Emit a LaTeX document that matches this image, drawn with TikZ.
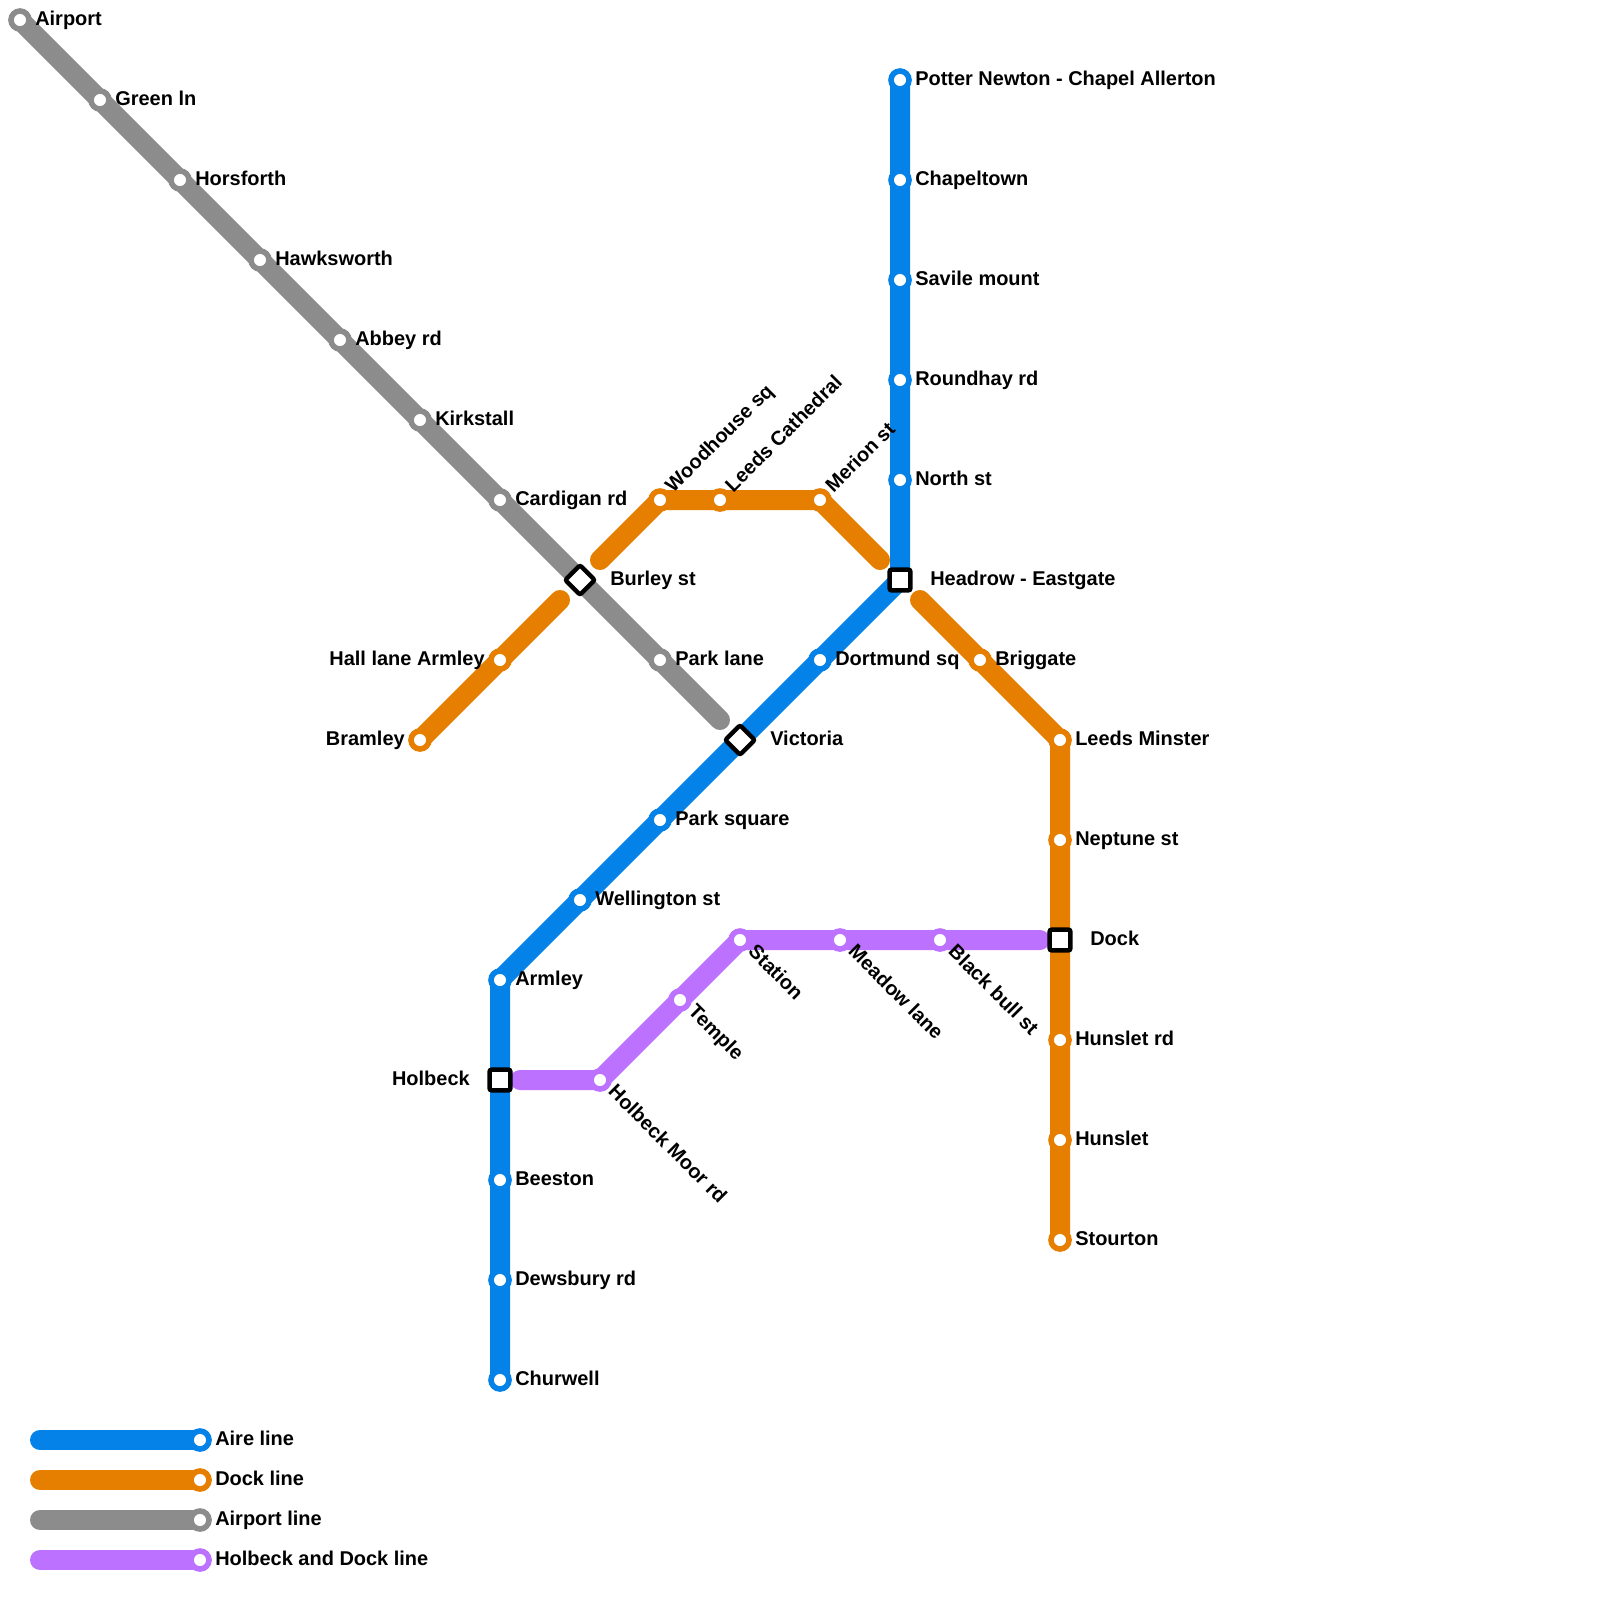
\documentclass[tikz,border=0pt]{standalone}
\usepackage{fontspec}
\setmainfont{Liberation Sans}
\usepackage{xcolor}
\usetikzlibrary{backgrounds}
\definecolor{airecol}{HTML}{0582E8}
\definecolor{dockcol}{HTML}{E67E00}
\definecolor{portcol}{HTML}{8C8C8C}
\definecolor{holbcol}{HTML}{BC71FF}
\tikzset{
  linestroke/.style={line width=0.5cm, line cap=round, line join=round},
  stopdot/.style={circle, draw=#1, fill=white, line width=0.14cm, minimum size=0.45cm, inner sep=0pt},
  hubbox/.style={rectangle, draw=black, fill=white, line width=0.11cm, minimum size=0.52cm, inner sep=0pt, rounded corners=0.05cm},
  stoplabel/.style={font=\fontsize{14.2pt}{17pt}\selectfont\bfseries, inner sep=0pt},
  labelright/.style={stoplabel, anchor=base west, xshift=0.375cm, yshift=-0.135cm},
  labelleft/.style={stoplabel, anchor=base east, xshift=-0.375cm, yshift=-0.135cm},
  labelfarright/.style={stoplabel, anchor=base west, xshift=0.75cm, yshift=-0.135cm},
  labelfarleft/.style={stoplabel, anchor=base east, xshift=-0.75cm, yshift=-0.135cm},
  labelup/.style={stoplabel, anchor=base west, rotate=45, xshift=0.35cm, yshift=-0.12cm},
  labeldown/.style={stoplabel, anchor=base west, rotate=-45, xshift=0.35cm, yshift=-0.1cm},
}
\newcommand{\stn}[6]{% #1 color, #2 name, #3 x, #4 y, #5 label style, #6 text
  \node[stopdot=#1] (#2) at (#3,#4) {};
  \node[#5] (#2text) at (#2.center) {#6};
}
\newcommand{\hub}[6]{% #1 name, #2 x, #3 y, #4 rotation, #5 label style, #6 text
  \node[hubbox, rotate=#4] (#1) at (#2,#3) {};
  \node[#5] (#1text) at (#1.center) {#6};
}

\begin{document}
\begin{tikzpicture}[x=0.5cm, y=-0.5cm]
  \useasboundingbox (0,0) rectangle (80,80);
  % interchanges
  \hub{burley}{29}{29}{45}{labelfarright}{Burley st}
  \hub{victoria}{37}{37}{45}{labelfarright}{Victoria}
  \hub{headrow}{45}{29}{0}{labelfarright}{Headrow - Eastgate}
  \hub{holbeck}{25}{54}{0}{labelfarleft}{Holbeck}
  \hub{dock}{53}{47}{0}{labelfarright}{Dock}
  % airport line
  \stn{portcol}{airport}{1}{1}{labelright}{Airport}
  \stn{portcol}{greenln}{5}{5}{labelright}{Green ln}
  \stn{portcol}{horsforth}{9}{9}{labelright}{Horsforth}
  \stn{portcol}{hawksworth}{13}{13}{labelright}{Hawksworth}
  \stn{portcol}{abbey}{17}{17}{labelright}{Abbey rd}
  \stn{portcol}{kirkstall}{21}{21}{labelright}{Kirkstall}
  \stn{portcol}{cardigan}{25}{25}{labelright}{Cardigan rd}
  \stn{portcol}{parklane}{33}{33}{labelright}{Park lane}
  \coordinate (portend) at (36,36);
  % aire line
  \stn{airecol}{potter}{45}{4}{labelright}{Potter Newton - Chapel Allerton}
  \stn{airecol}{chapeltown}{45}{9}{labelright}{Chapeltown}
  \stn{airecol}{savile}{45}{14}{labelright}{Savile mount}
  \stn{airecol}{roundhay}{45}{19}{labelright}{Roundhay rd}
  \stn{airecol}{northst}{45}{24}{labelright}{North st}
  \stn{airecol}{dortmund}{41}{33}{labelright}{Dortmund sq}
  \stn{airecol}{parksq}{33}{41}{labelright}{Park square}
  \stn{airecol}{wellington}{29}{45}{labelright}{Wellington st}
  \stn{airecol}{armley}{25}{49}{labelright}{Armley}
  \stn{airecol}{beeston}{25}{59}{labelright}{Beeston}
  \stn{airecol}{dewsbury}{25}{64}{labelright}{Dewsbury rd}
  \stn{airecol}{churwell}{25}{69}{labelright}{Churwell}
  % dock line
  \stn{dockcol}{bramley}{21}{37}{labelleft}{Bramley}
  \stn{dockcol}{halllane}{25}{33}{labelleft}{Hall lane Armley}
  \coordinate (dockgapa) at (28,30);
  \coordinate (dockgapb) at (30,28);
  \stn{dockcol}{woodhouse}{33}{25}{labelup}{Woodhouse sq}
  \stn{dockcol}{cathedral}{36}{25}{labelup}{Leeds Cathedral}
  \stn{dockcol}{merion}{41}{25}{labelup}{Merion st}
  \coordinate (dockgapc) at (44,28);
  \coordinate (dockgapd) at (46,30);
  \stn{dockcol}{briggate}{49}{33}{labelright}{Briggate}
  \stn{dockcol}{minster}{53}{37}{labelright}{Leeds Minster}
  \stn{dockcol}{neptune}{53}{42}{labelright}{Neptune st}
  \stn{dockcol}{hunsletrd}{53}{52}{labelright}{Hunslet rd}
  \stn{dockcol}{hunslet}{53}{57}{labelright}{Hunslet}
  \stn{dockcol}{stourton}{53}{62}{labelright}{Stourton}
  % holbeck and dock line
  \coordinate (holbstart) at (26,54);
  \stn{holbcol}{holbmoor}{30}{54}{labeldown}{Holbeck Moor rd}
  \stn{holbcol}{temple}{34}{50}{labeldown}{Temple}
  \stn{holbcol}{station}{37}{47}{labeldown}{Station}
  \stn{holbcol}{meadow}{42}{47}{labeldown}{Meadow lane}
  \stn{holbcol}{blackbull}{47}{47}{labeldown}{Black bull st}
  \coordinate (holbend) at (52,47);
  % key
  \coordinate (keyaire) at (2,72);
  \coordinate (keydock) at (2,74);
  \coordinate (keyport) at (2,76);
  \coordinate (keyholb) at (2,78);
  \stn{airecol}{keyairestop}{10}{72}{labelright}{Aire line}
  \stn{dockcol}{keydockstop}{10}{74}{labelright}{Dock line}
  \stn{portcol}{keyportstop}{10}{76}{labelright}{Airport line}
  \stn{holbcol}{keyholbstop}{10}{78}{labelright}{Holbeck and Dock line}
  \begin{pgfonlayer}{background}
    \draw[linestroke, portcol] (airport.center) -- (greenln.center) -- (horsforth.center) -- (hawksworth.center) -- (abbey.center) -- (kirkstall.center) -- (cardigan.center) -- (burley.center) -- (parklane.center) -- (portend);
    \draw[linestroke, airecol] (potter.center) -- (chapeltown.center) -- (savile.center) -- (roundhay.center) -- (northst.center) -- (headrow.center) -- (dortmund.center) -- (victoria.center) -- (parksq.center) -- (wellington.center) -- (armley.center) -- (holbeck.center) -- (beeston.center) -- (dewsbury.center) -- (churwell.center);
    \draw[linestroke, dockcol] (bramley.center) -- (halllane.center) -- (dockgapa);
    \draw[linestroke, dockcol] (dockgapb) -- (woodhouse.center) -- (cathedral.center) -- (merion.center) -- (dockgapc);
    \draw[linestroke, dockcol] (dockgapd) -- (briggate.center) -- (minster.center) -- (neptune.center) -- (dock.center) -- (hunsletrd.center) -- (hunslet.center) -- (stourton.center);
    \draw[linestroke, holbcol] (holbstart) -- (holbmoor.center) -- (temple.center) -- (station.center) -- (meadow.center) -- (blackbull.center) -- (holbend);
    \draw[linestroke, airecol] (keyaire) -- (keyairestop.center);
    \draw[linestroke, dockcol] (keydock) -- (keydockstop.center);
    \draw[linestroke, portcol] (keyport) -- (keyportstop.center);
    \draw[linestroke, holbcol] (keyholb) -- (keyholbstop.center);
  \end{pgfonlayer}
\end{tikzpicture}
\end{document}
